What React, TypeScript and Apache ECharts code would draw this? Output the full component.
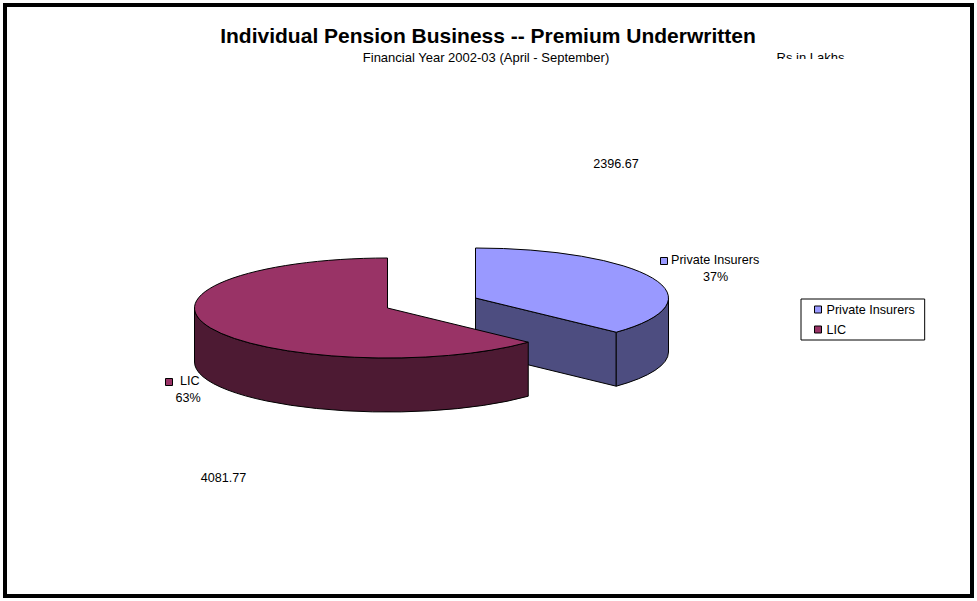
import React, { useEffect, useRef } from "react";
import * as echarts from "echarts";

const categories = ["Private Insurers", "LIC"];
const premiums = [2396.67, 4081.77];
const topColors = ["#9999FF", "#993366"];
const sideColors = ["#4D4D80", "#4D1A33"];
const titleText = "Individual Pension Business -- Premium Underwritten";
const subtitleText = "Financial Year 2002-03 (April - September)";
const unitText = "Rs in Lakhs";

const centers = [[475.5, 298], [387.5, 308]];
const radiusX = 193;
const radiusY = 50;
const depth = 54;
const FONT = "Liberation Sans, Arial, sans-serif";

const total = premiums.reduce((a, b) => a + b, 0);
const share = (i: number) => premiums[i] / total;
const pct = (i: number) => `${Math.round(share(i) * 100)}%`;

function renderSlice(index: number) {
  return (_params: any, api: any) => {
    const value = api.value(0) as number;
    const before = premiums.slice(0, index).reduce((a, b) => a + b, 0);
    const start = (before / total) * 360;
    const end = ((before + value) / total) * 360;
    const [cx, cy] = centers[index];
    const pt = (a: number, dy = 0) => {
      const r = (a * Math.PI) / 180;
      return [cx + radiusX * Math.sin(r), cy - radiusY * Math.cos(r) + dy];
    };
    const arc = (to: number[], sweep: number, large: number) =>
      `A${radiusX} ${radiusY} 0 ${large} ${sweep} ${to[0]} ${to[1]}`;
    const line = { stroke: "#000", lineWidth: 1 };
    const children: any[] = [];

    if (end > 0 && end < 180) {
      const p = pt(end);
      const d = `M${cx} ${cy}L${p[0]} ${p[1]}L${p[0]} ${p[1] + depth}L${cx} ${cy + depth}Z`;
      children.push({ type: "path", shape: { pathData: d }, style: { fill: sideColors[index], ...line } });
    }
    const wallFrom = Math.max(start, 90);
    const wallTo = Math.min(end, 270);
    if (wallTo > wallFrom) {
      const a = pt(wallFrom);
      const b = pt(wallTo);
      const a2 = pt(wallFrom, depth);
      const b2 = pt(wallTo, depth);
      const large = wallTo - wallFrom > 180 ? 1 : 0;
      const d = `M${a[0]} ${a[1]}${arc(b, 1, large)}L${b2[0]} ${b2[1]}${arc(a2, 0, large)}Z`;
      children.push({ type: "path", shape: { pathData: d }, style: { fill: sideColors[index], ...line } });
    }
    const s = pt(start);
    const e = pt(end);
    const large = end - start > 180 ? 1 : 0;
    const top = `M${cx} ${cy}L${s[0]} ${s[1]}${arc(e, 1, large)}Z`;
    children.push({ type: "path", shape: { pathData: top }, style: { fill: topColors[index], ...line } });
    return { type: "group", children };
  };
}

const labelText = (text: string, x: number, y: number, align = "center", size = 12.6) => ({
  type: "text",
  x,
  y,
  z: 5,
  style: { text, fill: "#000", font: `${size}px ${FONT}`, textAlign: align, textVerticalAlign: "middle" },
});

const keyBox = (i: number, x: number, y: number) => ({
  type: "rect",
  z: 5,
  shape: { x, y, width: 7, height: 7 },
  style: { fill: topColors[i], stroke: "#000", lineWidth: 1 },
});

export default function App() {
  const ref = useRef<HTMLDivElement>(null);
  useEffect(() => {
    const chart = echarts.init(ref.current!, null, { renderer: "svg" });
    chart.setOption({
      animation: false,
      backgroundColor: "#fff",
      title: {
        text: titleText,
        left: 488,
        top: 25,
        padding: 0,
        textAlign: "center",
        textStyle: { fontFamily: FONT, fontSize: 21, fontWeight: "bold", color: "#000" },
      },
      legend: {
        data: categories,
        orient: "vertical",
        left: 801,
        top: 299,
        padding: [4, 10, 4, 13],
        itemWidth: 7,
        itemHeight: 7,
        itemGap: 7,
        borderColor: "#000",
        borderWidth: 1,
        icon: "rect",
        itemStyle: { borderColor: "#000", borderWidth: 1 },
        textStyle: { fontFamily: FONT, fontSize: 12.6, color: "#000" },
      },
      series: categories.map((name, i) => ({
        type: "custom",
        name,
        coordinateSystem: "none",
        itemStyle: { color: topColors[i] },
        data: [[premiums[i]]],
        encode: { value: 0 },
        renderItem: renderSlice(i),
        silent: true,
      })),
      graphic: [
        { type: "rect", z: 0, shape: { x: 5, y: 5, width: 967, height: 591 }, style: { fill: "none", stroke: "#000", lineWidth: 4 } },
        labelText(subtitleText, 486, 57, "center", 13),
        labelText(unitText, 810.5, 57, "center", 13),
        { type: "rect", z: 6, shape: { x: 770, y: 59, width: 80, height: 12 }, style: { fill: "#fff" } },
        labelText(premiums[0].toFixed(2), 616, 164),
        labelText(premiums[1].toFixed(2), 223.5, 478),
        keyBox(0, 660.5, 257.5),
        labelText(categories[0], 671, 260, "left"),
        labelText(pct(0), 715.5, 277),
        keyBox(1, 165.5, 378.5),
        labelText(categories[1], 180, 381, "left"),
        labelText(pct(1), 188, 398),
      ],
    });
    return () => chart.dispose();
  }, []);
  return <div ref={ref} style={{ position: "fixed", left: 0, top: 0, width: 977, height: 601 }} />;
}
